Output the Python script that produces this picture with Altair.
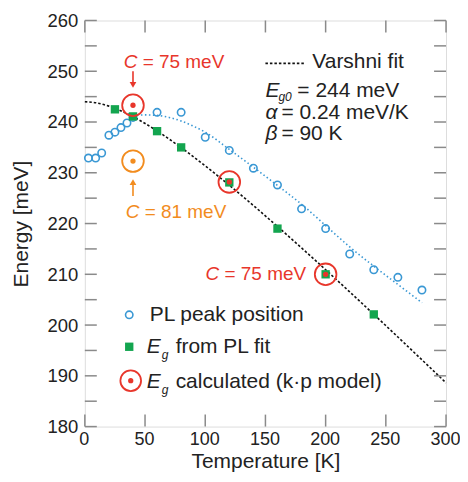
import altair as alt
import pandas as pd

FONT = "Liberation Sans"
BLUE = "#3a98d4"
GREEN = "#13a54f"
RED = "#e8362b"
ORANGE = "#f28c1e"
FRAME = "#8a8a8a"
TXT = "#222222"

# PL peak position (open circles)
pl_T = [3, 9, 14, 20, 25, 30, 35, 40, 60, 80, 100, 120, 140, 160, 180, 200, 220, 240, 260, 280]
pl_E = [232.9, 232.9, 233.9, 237.4, 238.0, 238.9, 239.8, 240.9, 241.9, 241.9, 237.0, 234.4,
        230.9, 227.6, 222.9, 219.0, 214.0, 210.9, 209.4, 206.9]

# dotted blue guide through PL peaks
plfit_T = [40, 50, 60, 70, 80, 90, 100, 120, 140, 160, 180, 200, 220, 240, 260, 280]
plfit_E = [241.2, 241.4, 241.3, 240.9, 240.2, 239.2, 238.0, 234.6, 231.1, 227.5, 223.8, 219.6,
           215.4, 211.6, 208.0, 204.4]

# Eg from PL fit (green squares)
eg_T = [25, 40, 60, 80, 120, 160, 200, 240]
eg_E = [242.5, 241.1, 238.2, 235.0, 228.1, 219.0, 210.0, 202.1]

# Varshni fit
var_T = [0, 10, 20, 40, 60, 80, 100, 120, 140, 160, 180, 200, 220, 240, 260, 280, 300]
var_E = [244.0, 243.76, 243.13, 241.05, 238.24, 234.96, 231.37, 227.54, 223.55, 219.42,
         215.2, 210.9, 206.53, 202.11, 197.65, 193.15, 188.62]

# k.p calculated points
kp_T = [40, 120, 200]
kp_E = [243.3, 228.2, 210.0]
kp_orange_T = [40]
kp_orange_E = [232.3]

x_ticks = [0, 50, 100, 150, 200, 250, 300]
y_labels = [180, 190, 200, 210, 220, 230, 240, 250, 260]
y_ticks = [180 + 5 * i for i in range(17)]

W, H = 362, 407
xs = alt.Scale(domain=[0, 300], nice=False, zero=False)
ys = alt.Scale(domain=[180, 260], nice=False, zero=False)

x_axis = alt.Axis(values=x_ticks, ticks=False, domain=False, grid=False, labelFont=FONT,
                  labelFontSize=18, labelColor=TXT, labelPadding=4, labelOffset=-1,
                  title="Temperature [K]",
                  titleFont=FONT, titleFontSize=21, titleFontWeight="normal", titleColor=TXT,
                  titlePadding=2, labelFlush=False)
y_axis = alt.Axis(values=y_labels, ticks=False, domain=False, grid=False, labelFont=FONT,
                  labelFontSize=18.5, labelColor=TXT, labelPadding=7, title="Energy [meV]",
                  titleFont=FONT, titleFontSize=21, titleFontWeight="normal", titleColor=TXT,
                  titlePadding=16, labelFlush=False)

def X(f="T"):
    return alt.X(f"{f}:Q", scale=xs, axis=x_axis)

def Y(f="E"):
    return alt.Y(f"{f}:Q", scale=ys, axis=y_axis)

OX, OY = 85, 20  # plot origin in page pixels

varshni = alt.Chart(pd.DataFrame({"T": var_T, "E": var_E})).mark_line(
    color="#111111", strokeWidth=1.6, strokeDash=[2.5, 2], interpolate="monotone"
).encode(x=X(), y=Y())
plfit = alt.Chart(pd.DataFrame({"T": plfit_T, "E": plfit_E})).mark_line(
    color=BLUE, strokeWidth=1.6, strokeDash=[1.5, 2.5], interpolate="monotone"
).encode(x=X(), y=Y())
pl_pts = alt.Chart(pd.DataFrame({"T": pl_T, "E": pl_E})).mark_point(
    shape="circle", filled=False, color=BLUE, size=55, strokeWidth=1.6, opacity=1
).encode(x=X(), y=Y())
eg_pts = alt.Chart(pd.DataFrame({"T": eg_T, "E": eg_E})).mark_square(
    color=GREEN, size=70, opacity=1).encode(x=X(), y=Y())
kp_df = pd.DataFrame({"T": kp_T, "E": kp_E})
kp_ring = alt.Chart(kp_df).mark_point(shape="circle", filled=False, color=RED, size=470,
                                      strokeWidth=1.8, opacity=1).encode(x=X(), y=Y())
kp_dot = alt.Chart(kp_df).mark_circle(color=RED, size=28, opacity=1).encode(x=X(), y=Y())
or_df = pd.DataFrame({"T": kp_orange_T, "E": kp_orange_E})
or_ring = alt.Chart(or_df).mark_point(shape="circle", filled=False, color=ORANGE, size=470,
                                      strokeWidth=1.8, opacity=1).encode(x=X(), y=Y())
or_dot = alt.Chart(or_df).mark_circle(color=ORANGE, size=28, opacity=1).encode(x=X(), y=Y())

# arrows (attached to the T=40 k.p points)
one = pd.DataFrame({"T": [40]})
red_arrow = alt.Chart(one).mark_rule(color=RED, strokeWidth=1.6).encode(
    x=X(), y=alt.value(71 - OY), y2=alt.value(83 - OY))
red_head = alt.Chart(one).mark_point(shape="triangle-down", filled=True, color=RED, size=45,
                                     opacity=1).encode(x=X(), y=alt.value(84.5 - OY))
or_arrow = alt.Chart(one).mark_rule(color=ORANGE, strokeWidth=1.6).encode(
    x=X(), y=alt.value(184 - OY), y2=alt.value(196 - OY))
or_head = alt.Chart(one).mark_point(shape="triangle-up", filled=True, color=ORANGE, size=45,
                                    opacity=1).encode(x=X(), y=alt.value(182 - OY))

# inward ticks on all four sides
TL = 12
yt = alt.Chart(pd.DataFrame({"E": y_ticks}))
xt = alt.Chart(pd.DataFrame({"T": x_ticks}))
tick_style = dict(color=FRAME, strokeWidth=1.5)
ticks = [
    yt.mark_rule(**tick_style).encode(y=Y(), x=alt.value(0), x2=alt.value(TL)),
    yt.mark_rule(**tick_style).encode(y=Y(), x=alt.value(W - TL), x2=alt.value(W)),
    xt.mark_rule(**tick_style).encode(x=X(), y=alt.value(H - TL), y2=alt.value(H)),
    xt.mark_rule(**tick_style).encode(x=X(), y=alt.value(0), y2=alt.value(TL)),
]

dummy = pd.DataFrame({"d": [0]})

def txt(x, y, s, color=TXT, size=21, italic=False, align="left"):
    kw = dict(text=s, font=FONT, fontSize=size, color=color, align=align, baseline="middle")
    if italic:
        kw["fontStyle"] = "italic"
    return alt.Chart(dummy).mark_text(**kw).encode(x=alt.value(x - OX), y=alt.value(y - OY))

AS = 19  # annotation font size
texts = [
    txt(124, 62, "C", RED, size=AS, italic=True),
    txt(143, 62, "= 75 meV", RED, size=AS),
    txt(126, 212, "C", ORANGE, size=AS, italic=True),
    txt(145, 212, "= 81 meV", ORANGE, size=AS),
    txt(206, 274, "C", RED, size=AS, italic=True),
    txt(225, 274, "= 75 meV", RED, size=AS),
    txt(313, 62, "Varshni fit"),
    txt(266, 91, "E", italic=True),
    txt(279, 97, "g0", size=12, italic=True),
    txt(298, 91, "= 244 meV"),
    txt(266, 113, "α", italic=True),
    txt(282, 113, "= 0.24 meV/K"),
    txt(266, 134, "β", italic=True),
    txt(282, 134, "= 90 K"),
    txt(150, 315, "PL peak position"),
    txt(147, 347, "E", italic=True),
    txt(162, 355, "g", size=12, italic=True),
    txt(176, 347, "from PL fit"),
    txt(147, 382, "E", italic=True),
    txt(162, 390, "g", size=12, italic=True),
    txt(176, 382, "calculated (k·p model)"),
]

legend_marks = [
    alt.Chart(dummy).mark_rule(color="#111111", strokeWidth=1.6, strokeDash=[2.5, 2]).encode(
        x=alt.value(266 - OX), x2=alt.value(306 - OX), y=alt.value(63 - OY)),
    alt.Chart(dummy).mark_point(shape="circle", filled=False, color=BLUE, size=55, strokeWidth=1.6,
                                opacity=1).encode(x=alt.value(129.5 - OX), y=alt.value(315 - OY)),
    alt.Chart(dummy).mark_square(color=GREEN, size=70, opacity=1).encode(
        x=alt.value(129.5 - OX), y=alt.value(347 - OY)),
    alt.Chart(dummy).mark_point(shape="circle", filled=False, color=RED, size=430, strokeWidth=1.8,
                                opacity=1).encode(x=alt.value(131 - OX), y=alt.value(381 - OY)),
    alt.Chart(dummy).mark_circle(color=RED, size=28, opacity=1).encode(
        x=alt.value(131 - OX), y=alt.value(381 - OY)),
]

chart = alt.layer(
    varshni, plfit, *ticks, pl_pts, eg_pts, kp_ring, kp_dot, or_ring, or_dot,
    red_arrow, red_head, or_arrow, or_head, *texts, *legend_marks
).properties(
    width=W, height=H,
    autosize=alt.AutoSizeParams(type="none"),
    padding={"left": OX - 8, "top": OY - 8, "right": 14, "bottom": 45},
).configure_view(
    stroke=FRAME, strokeWidth=1.6
).configure(background="white")

chart.save("out.html", embed_options={"renderer": "svg", "actions": False})
